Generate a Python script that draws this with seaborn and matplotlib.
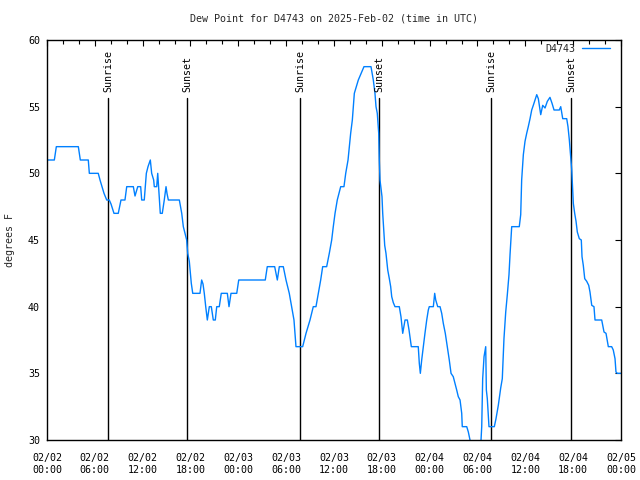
import matplotlib
matplotlib.use("Agg")
import matplotlib.pyplot as plt
import matplotlib.dates as mdates
import seaborn as sns
import pandas as pd
import numpy as np

# hours since 2025-02-02 00:00 UTC and dew point (F)
hours = [0, 0.92, 1.17, 3.93, 4.18, 5.18, 5.31, 6.43, 6.65, 6.90, 7.15, 7.49, 7.81, 8.03,
         8.40, 8.94, 9.28, 9.78, 10.00, 10.83, 11.04, 11.38, 11.75, 11.88, 12.20, 12.46,
         12.67, 12.96, 13.13, 13.38, 13.46, 13.76, 13.89, 14.21, 14.46, 14.71, 14.93,
         15.05, 15.22, 16.60, 16.90, 17.10, 17.31, 17.52, 17.65, 17.85, 18.10, 18.28,
         19.19, 19.40, 19.57, 19.73, 19.91, 20.11, 20.36, 20.61, 20.86, 21.11, 21.29,
         21.61, 21.86, 22.62, 22.83, 23.08, 23.80, 24.05, 27.38, 27.63, 28.56, 28.89,
         29.14, 29.64, 29.98, 30.39, 30.69, 30.98, 31.11, 31.23, 32.07, 32.49, 32.99,
         33.40, 33.74, 34.03, 34.33, 34.58, 35.08, 35.41, 35.71, 35.91, 36.13, 36.41,
         36.84, 37.25, 37.47, 37.76, 37.92, 38.09, 38.30, 38.42, 38.55, 39.05, 39.76,
         40.64, 40.93, 41.14, 41.27, 41.43, 41.61, 41.68, 41.77, 42.02, 42.11, 42.23,
         42.36, 42.52, 42.74, 42.94, 43.11, 43.24, 43.44, 43.65, 44.19, 44.40, 44.62,
         44.91, 45.20, 45.41, 45.70, 46.57, 46.70, 46.83, 47.00, 47.20, 47.41, 47.63,
         47.83, 47.95, 48.46, 48.63, 48.76, 49.01, 49.30, 49.51, 49.71, 49.96, 50.21,
         50.46, 50.68, 50.96, 51.18, 51.39, 51.59, 51.81, 52.02, 52.09, 52.65, 52.85,
         53.06, 53.44, 54.31, 54.53, 54.65, 54.82, 55.03, 55.11, 55.23, 55.44, 56.11,
         56.32, 56.61, 56.91, 57.11, 57.32, 57.54, 57.74, 57.95, 58.08, 58.29, 59.24,
         59.42, 59.54, 59.75, 59.96, 60.17, 60.37, 60.59, 60.80, 61.00, 61.21, 61.43,
         61.63, 61.93, 62.18, 62.47, 62.76, 63.09, 63.35, 63.60, 64.26, 64.44, 64.69,
         65.19, 65.35, 65.52, 65.64, 65.82, 65.89, 66.02, 66.19, 66.36, 66.52, 66.77,
         67.02, 67.11, 67.27, 67.45, 67.70, 67.95, 68.11, 68.33, 68.61, 68.74, 69.58,
         69.87, 70.12, 70.41, 70.83, 71.03, 71.25, 71.37, 71.54, 72.00]
dewpoint = [51, 51, 52, 52, 51, 51, 50, 50, 49.5, 49, 48.5, 48, 48, 47.7,
            47, 47, 48, 48, 49, 49, 48.3, 49, 49, 48, 48, 50,
            50.5, 51, 50, 49.5, 49, 49, 50, 47, 47, 48, 49,
            48.5, 48, 48, 47, 46, 45.5, 45, 44, 43.4, 41.75, 41,
            41, 42, 41.7, 41, 40, 39, 40, 40, 39, 39, 40,
            40, 41, 41, 40, 41, 41, 42, 42, 43, 43, 42,
            43, 43, 42, 41, 40, 39, 38, 37, 37, 38, 39,
            40, 40, 41, 42, 43, 43, 44, 45, 46, 47, 48,
            49, 49, 50, 51, 52, 53, 54, 55, 56, 57, 58,
            58, 57, 56, 55, 54.5, 53, 51, 49.5, 48.25, 47, 45.9,
            44.6, 44, 42.75, 42.1, 41.5, 40.75, 40.3, 40, 40, 39.25, 38,
            39, 39, 38.25, 37, 37, 35.75, 35, 36, 37, 38, 39,
            39.75, 40, 40, 41, 40.5, 40, 40, 39.5, 38.75, 38, 37,
            36, 35, 34.75, 34.25, 33.75, 33.25, 33, 32, 31, 31, 30.6,
            30, 28.5, 28.5, 31, 34.6, 36.25, 37, 33.75, 33.1, 31, 31,
            31.6, 32.6, 33.9, 34.6, 37.6, 39.6, 40.9, 42.4, 43.9, 46, 46,
            46.9, 49.5, 51.4, 52.4, 53, 53.5, 54.1, 54.75, 55.1, 55.5, 55.9,
            55.6, 54.4, 55.1, 54.9, 55.4, 55.7, 55.25, 54.75, 54.75, 55, 54.1,
            54.1, 53.5, 52.5, 51.6, 50.25, 49.4, 47.75, 47, 46.4, 45.6, 45.1,
            45, 43.75, 43.1, 42.1, 41.9, 41.6, 41.1, 40.1, 40, 39, 39,
            38.1, 38, 37, 37, 36.75, 36.1, 35.1, 35, 35]

sun_event_hours = [7.65, 17.56, 31.74, 41.65, 55.70, 65.73]
sun_event_labels = ["Sunrise", "Sunset", "Sunrise", "Sunset", "Sunrise", "Sunset"]
y_ticks = [30, 35, 40, 45, 50, 55, 60]

start = pd.Timestamp("2025-02-02 00:00")
df = pd.DataFrame({
    "time": start + pd.to_timedelta(hours, unit="h"),
    "dew": dewpoint,
})

sns.set_style("white")
plt.rcParams["font.family"] = ["DejaVu Sans Mono"]
FS = 7.2

fig = plt.figure(figsize=(6.4, 4.8), dpi=100)
ax = fig.add_axes([47 / 640, 40 / 480, 574 / 640, 400 / 480])

sns.lineplot(data=df, x="time", y="dew", color="#0080ff", linewidth=1.0,
             label="D4743", ax=ax)

for h, lab in zip(sun_event_hours, sun_event_labels):
    t = start + pd.to_timedelta(h, unit="h")
    ax.plot([t, t], [30, 55.65], color="black", linewidth=1.0, zorder=1)
    ax.text(t, 56.1, lab, rotation=90, ha="center", va="bottom",
            fontsize=FS, color="black")

ax.set_xlim(start, start + pd.Timedelta(hours=72))
ax.set_ylim(30, 60)
ax.set_yticks(y_ticks)
ax.xaxis.set_major_locator(mdates.HourLocator(byhour=[0, 6, 12, 18]))
ax.xaxis.set_minor_locator(mdates.HourLocator(interval=2))
ax.xaxis.set_major_formatter(mdates.DateFormatter("%m/%d\n%H:%M"))

ax.tick_params(axis="both", which="both", direction="in", top=True, right=True,
               colors="black", labelsize=FS)
ax.tick_params(axis="x", which="major", length=4.5, width=0.8, pad=9)
ax.tick_params(axis="x", which="minor", length=2.8, width=0.8)
ax.tick_params(axis="y", which="major", length=4.5, width=0.8, pad=5)
for lbl in ax.get_xticklabels():
    lbl.set_linespacing(1.35)

for s in ax.spines.values():
    s.set_color("black")
    s.set_linewidth(1.0)

ax.set_xlabel("")
ax.set_ylabel("")
ax.set_title("Dew Point for D4743 on 2025-Feb-02 (time in UTC)", fontsize=FS, pad=13)
fig.text(10 / 640, 0.5, "degrees F", rotation=90, ha="center", va="center", fontsize=FS)

ax.legend(loc="upper right", bbox_to_anchor=(0.981, 0.99), frameon=False,
          markerfirst=False, handlelength=2.8, handletextpad=0.7,
          borderaxespad=0, borderpad=0, fontsize=FS)

fig.savefig("out.png", dpi=100)
